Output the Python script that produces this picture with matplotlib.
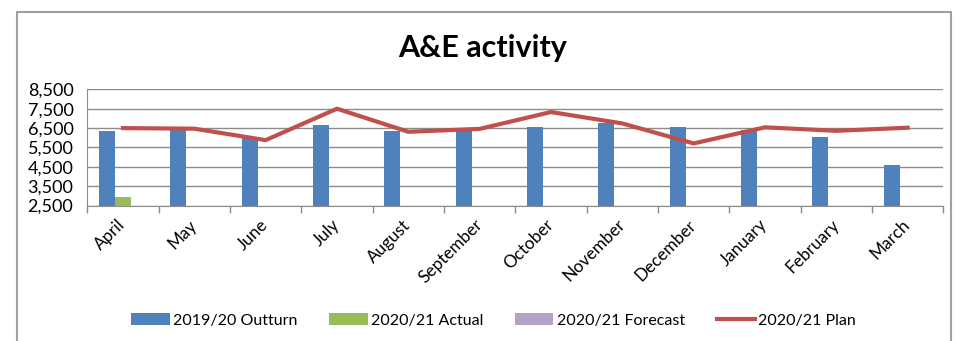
import numpy as np
import matplotlib
matplotlib.use('Agg')
from matplotlib import pyplot as plt
from matplotlib.patches import Rectangle

months = ['April', 'May', 'June', 'July', 'August', 'September', 'October',
          'November', 'December', 'January', 'February', 'March']
outturn_1920 = [6370, 6450, 5970, 6660, 6370, 6420, 6540, 6780, 6540, 6380, 6060, 4600]
actual_2021 = [2950] + [np.nan] * 11
forecast_2021 = [np.nan] * 12
plan_2021 = [6500, 6470, 5880, 7500, 6310, 6460, 7330, 6740, 5710, 6540, 6360, 6520]
yticks = [2500, 3500, 4500, 5500, 6500, 7500, 8500]

plt.rcParams['font.family'] = ['Lato', 'DejaVu Sans']

fig = plt.figure(figsize=(9.66, 3.41), dpi=100)
ax = fig.add_axes([0.0904, 0.397, 0.8861, 0.341])

x = np.arange(len(months))
w = 0.224
h1 = ax.bar(x - w, outturn_1920, w, color='#4F81BD', label='2019/20 Outturn', zorder=3)
h2 = ax.bar(x, actual_2021, w, color='#9BBB59', label='2020/21 Actual', zorder=3)
h3 = ax.bar(x + w, forecast_2021, w, color='#B3A2C7', label='2020/21 Forecast', zorder=3)
h4, = ax.plot(x, plan_2021, color='#C0504D', lw=3, label='2020/21 Plan', zorder=4)

ax.set_xlim(-0.5, len(months) - 0.5)
ax.set_ylim(2500, 8500)
ax.set_yticks(yticks)
ax.set_yticklabels([f'{v:,}' for v in yticks], fontsize=13)
ax.tick_params(axis='y', length=0, pad=10)
ax.grid(axis='y', color='#8c8c8c', lw=1, zorder=0)

ax.set_xticks(x)
ax.set_xticklabels(months, rotation=45, ha='right', va='center',
                   rotation_mode='anchor', fontsize=12.3)
ax.tick_params(axis='x', which='major', length=0, pad=12)
ax.set_xticks(np.arange(-0.5, len(months)), minor=True)
ax.tick_params(axis='x', which='minor', length=5, color='#8c8c8c', width=1)

for side in ['top', 'right']:
    ax.spines[side].set_visible(False)
for side in ['left', 'bottom']:
    ax.spines[side].set_color('#8c8c8c')

fig.text(0.5, 0.86, 'A&E activity', ha='center', va='center',
         fontsize=22, fontweight='bold')

fig.legend([h1, h2, h3, h4], [h.get_label() for h in [h1, h2, h3, h4]],
           loc='center', bbox_to_anchor=(0.511, 0.06), ncol=4, frameon=False,
           fontsize=11.5, handlelength=2.4, handleheight=0.8, columnspacing=2.0,
           handletextpad=0.2)

# grey chart frame, open at the bottom
fig.patches.append(Rectangle((16.5 / 966, -0.2), (951 - 16.5) / 966, 1.2 - 12 / 341,
                             transform=fig.transFigure, fill=False,
                             edgecolor='#a0a0a0', lw=1.5))

fig.savefig('out.png', dpi=100)
